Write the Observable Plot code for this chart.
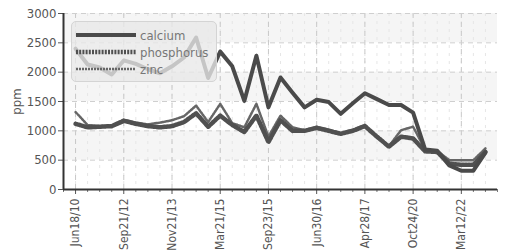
<!DOCTYPE html>
<html><head><meta charset="utf-8">
<script src="https://cdn.jsdelivr.net/npm/d3@7"></script>
<script src="https://cdn.jsdelivr.net/npm/@observablehq/plot@0.6"></script>
<style>
body{margin:0;background:#fff;font-family:"DejaVu Sans Condensed","DejaVu Sans",sans-serif;font-stretch:condensed;}
#wrap{position:relative;width:511px;height:250px;}
#legend{position:absolute;left:71px;top:21px;width:146px;height:61px;background:rgba(232,232,232,0.78);border:1px solid #d4d4d4;border-radius:5px;box-sizing:border-box;}
#legend .row{position:absolute;left:3px;height:16px;display:flex;align-items:center;font-size:13px;color:#777;}
#legend svg{margin-right:3px;}
</style></head>
<body><div id="wrap"><div id="legend"></div></div>
<script>
const labels = ["Jun18/10","Sep21/12","Nov21/13","Mar21/15","Sep23/15","Jun30/16","Apr28/17","Oct24/20","Mar12/22"];
const calcium = [2400,2130,2080,1960,2200,2140,2050,1980,2100,2250,2590,1900,2350,2100,1510,2280,1400,1910,1650,1400,1530,1490,1290,1470,1640,1540,1440,1440,1310,680,660,410,320,320,630];
const phosphorus = [1120,1060,1070,1080,1170,1120,1080,1060,1080,1150,1300,1070,1260,1100,980,1260,810,1180,1000,1000,1050,1000,950,1000,1080,900,730,900,870,650,640,440,420,420,640];
const zinc = [1320,1100,1080,1090,1190,1140,1110,1140,1180,1250,1430,1150,1460,1130,1060,1460,900,1260,1060,1010,1070,1020,960,1020,1100,900,740,1010,1070,680,660,500,500,500,700];
const seriesNames = ["calcium","phosphorus","zinc"];
const bandStarts = [500,1500,2500];
const yTicks = [0,500,1000,1500,2000,2500,3000];

const FONT = '"DejaVu Sans Condensed","DejaVu Sans",sans-serif';
const styles = {
  calcium:{stroke:"#4a4a4a",strokeWidth:4,strokeDasharray:null},
  phosphorus:{stroke:"#505050",strokeWidth:4.5,strokeDasharray:"2,1.2"},
  zinc:{stroke:"#666",strokeWidth:2.5,strokeDasharray:"2,1"}
};
const dataBy = {calcium, phosphorus, zinc};
const idx = d3.range(calcium.length);
const tickIdx = labels.map((_, i) => i * 4);

const lineMarks = seriesNames.slice().reverse().map(name =>
  Plot.line(idx, {x: i => i, y: i => dataBy[name][i], stroke: styles[name].stroke,
    strokeWidth: styles[name].strokeWidth, strokeDasharray: styles[name].strokeDasharray,
    strokeLinejoin:"round", curve:"linear"}));

const chart = Plot.plot({
  width: 511, height: 250,
  marginLeft: 63, marginRight: 14, marginTop: 13, marginBottom: 61,
  style: {fontFamily: FONT, fontStretch: "condensed", fontSize: "13px", color: "#555", background: "#fff"},
  x: {type: "linear", domain: [-1, 35]},
  y: {domain: [0, 3000]},
  marks: [
    Plot.rect(bandStarts, {x1: -1, x2: 35, y1: d => d, y2: d => d + 500, fill: "#f5f5f5"}),
    Plot.ruleX(idx, {x: d => d, stroke: "#e6e6e6", strokeDasharray: "3,5", strokeWidth: 1}),
    Plot.ruleX(tickIdx, {x: d => d, stroke: "#c8c8c8", strokeDasharray: "5,4", strokeWidth: 1}),
    Plot.ruleY(yTicks.slice(1), {y: d => d, stroke: "#cfcfcf", strokeDasharray: "5,4", strokeWidth: 1}),
    ...lineMarks,
    Plot.axisY({ticks: yTicks, tickFormat: d => String(d), tickSize: 5, tickPadding: 2, label: "ppm", labelAnchor: "center", labelArrow: "none", labelOffset: 52, fontSize: 13, color:"#555"}),
    Plot.axisX({ticks: tickIdx, tickFormat: i => labels[i / 4], tickRotate: -90, tickSize: 5, tickPadding: 4, label: null, fontSize: 12}),
    Plot.axisX({ticks: idx.concat([-1,35]).filter(i=>!tickIdx.includes(i)), tickFormat: () => "", tickSize: 3, label: null, stroke:"#777"}),
    Plot.ruleX([-1], {stroke: "#333", strokeWidth: 2}),
    Plot.ruleY([0], {stroke: "#333", strokeWidth: 2})
  ]
});
document.getElementById("wrap").prepend(chart);

const leg = document.getElementById("legend");
const rowTops = [5, 22, 39];
seriesNames.forEach((name, k) => {
  const s = styles[name];
  const row = document.createElement("div");
  row.className = "row";
  row.style.top = rowTops[k] + "px";
  row.innerHTML = `<svg width="62" height="10"><line x1="1" x2="61" y1="5" y2="5" stroke="${s.stroke}" stroke-width="${s.strokeWidth}" ${s.strokeDasharray ? `stroke-dasharray="${s.strokeDasharray}"` : ""}/></svg><span>${name}</span>`;
  leg.appendChild(row);
});
</script></body></html>
